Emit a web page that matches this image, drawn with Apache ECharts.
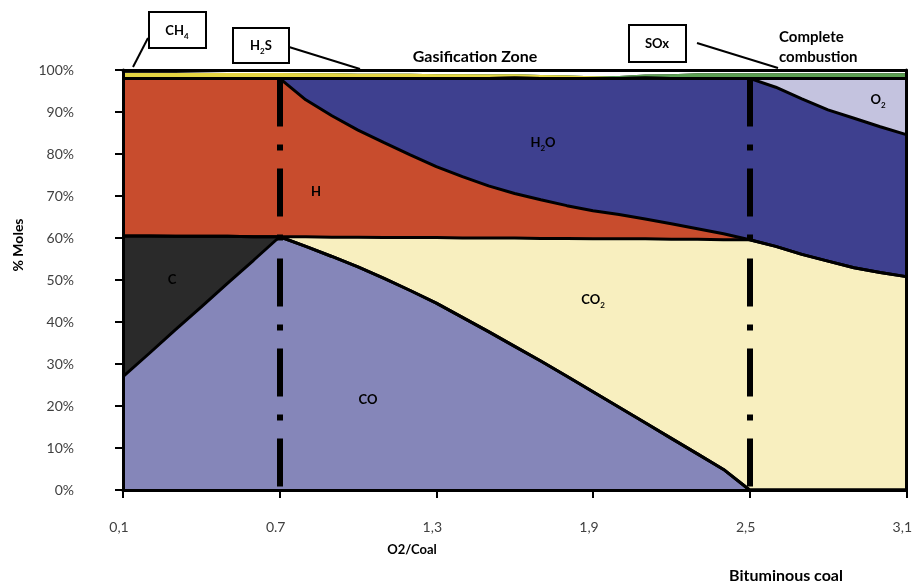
<!DOCTYPE html>
<html><head><meta charset="utf-8">
<script src="https://cdn.jsdelivr.net/npm/echarts@6/dist/echarts.min.js"></script>
<style>html,body{margin:0;padding:0;background:#fff}#c{width:915px;height:586px}</style>
</head><body><div id="c"></div>
<script>
// O2/Coal ratio sampling points
const xValues = [0.1,0.2,0.3,0.4,0.5,0.6,0.7,0.8,0.9,1.0,1.1,1.2,1.3,1.4,1.5,1.6,1.7,1.8,1.9,2.0,2.1,2.2,2.3,2.4,2.5,2.6,2.7,2.8,2.9,3.0,3.1];
// % moles of each species (stacked from bottom)
const CO  = [27.0,32.5,38.1,43.6,49.2,54.7,60.3,58.0,55.6,53.1,50.4,47.5,44.5,41.1,37.7,34.2,30.7,27.1,23.4,19.7,16.0,12.3,8.6,4.9,0,0,0,0,0,0,0];
const C   = [33.5,28.0,22.3,16.8,11.2,5.6,0,0,0,0,0,0,0,0,0,0,0,0,0,0,0,0,0,0,0,0,0,0,0,0,0];
const CO2 = [0,0,0,0,0,0,0,2.3,4.6,7.1,9.7,12.6,15.6,18.9,22.3,25.8,29.2,32.8,36.4,40.1,43.8,47.4,51.1,54.7,59.6,58.0,56.1,54.5,52.9,51.8,50.8];
const H   = [37.5,37.5,37.6,37.6,37.6,37.7,37.7,32.6,28.9,25.5,22.6,19.7,16.9,14.6,12.4,10.6,9.2,7.8,6.7,5.8,4.7,3.7,2.5,1.4,0,0,0,0,0,0,0];
const H2O = [0,0,0,0,0,0,0,5.1,8.9,12.3,15.3,18.2,21.0,23.4,25.6,27.5,28.9,30.3,31.5,32.4,33.6,34.6,35.8,37.0,38.4,37.9,37.0,36.0,35.6,34.7,33.8];
const O2  = [0,0,0,0,0,0,0,0,0,0,0,0,0,0,0,0,0,0,0,0,0,0,0,0,0,2.1,4.9,7.5,9.5,11.5,13.4];
const H2S = [1.3,1.3,1.3,1.3,1.3,1.3,1.3,1.2,1.2,1.1,1.1,1.1,1.0,1.0,0.9,0.9,0.8,0.7,0.5,0.3,0.1,0,0,0,0,0,0,0,0,0,0];
const SOx = [0,0,0,0,0,0,0,0,0,0,0,0,0,0,0,0,0,0,0,0.3,0.7,1.0,1.2,1.2,1.2,1.2,1.2,1.2,1.2,1.2,1.2];
const CH4 = [0.4,0.3,0.2,0.1,0,0,0,0,0,0,0,0,0,0,0,0,0,0,0,0,0,0,0,0,0,0,0,0,0,0,0];

const tickValues = [0.1,0.7,1.3,1.9,2.5,3.1];
const tickLabels = ['0,1','0.7','1,3','1,9','2,5','3,1'];
const zoneBoundaries = [0.7, 2.5];

const speciesNames = ['CO','C','CO2','H','H2O','O2','H2S','SOx','CH4'];
const speciesData = {CO, C, CO2, H, H2O, O2, H2S, SOx, CH4};
const speciesColors = {CO:'#8586b9', C:'#2a2a2a', CO2:'#f8efbf', H:'#c84c2d', H2O:'#3e408f', O2:'#c4c3df', H2S:'#e3d443', SOx:'#5c9f52', CH4:'#222222'};
const bordered = ['CO','C','CO2','H','H2O','O2'];

const FONT = 'Lato';
// cumulative (stacked) tops of each species layer
const cumulative = {};
let running = xValues.map(() => 0);
speciesNames.forEach(n => {
  running = running.map((v, i) => +(v + speciesData[n][i]).toFixed(3));
  cumulative[n] = running.slice();
});
const pairs = arr => xValues.map((x, i) => [x, arr[i]]);

// draw layers from the top one down so each lower layer covers the part below its top
const areaSeries = speciesNames.slice().reverse().map(n => ({
  name: n, type: 'line', data: pairs(cumulative[n]),
  symbol: 'none', z: 2, silent: true, lineStyle: { width: 0 },
  areaStyle: { color: speciesColors[n], opacity: 1, origin: 'start' }
}));
const lineSeries = bordered.map((n, i) => ({
  name: n + '_edge', type: 'line', data: pairs(cumulative[n]),
  symbol: 'none', z: 4, silent: true, lineStyle: { color: '#000', width: 3 },
  markLine: i === bordered.length - 1 ? {
    symbol: 'none', silent: true, label: { show: false },
    lineStyle: { color: '#000', width: 6, type: [48, 18, 6, 18] },
    data: zoneBoundaries.map(x => [{ coord: [x, cumulative.O2[xValues.indexOf(x)]] }, { coord: [x, 0] }])
  } : undefined
}));

const boldText = (text, x, y, extra) => ({
  type: 'text', x, y, z: 100,
  style: Object.assign({ text, fontFamily: FONT, fontWeight: 'bold', fontSize: 15, fill: '#000', align: 'center', verticalAlign: 'middle' }, extra || {})
});
const subRich = (fill) => ({
  a: { fontFamily: FONT, fontWeight: 'bold', fontSize: 13, color: fill, lineHeight: 18 },
  s: { fontFamily: FONT, fontWeight: 'bold', fontSize: 8, color: fill, verticalAlign: 'bottom', lineHeight: 9 }
});
const richLabel = (text, x, y, fill) => ({
  type: 'text', x, y, z: 100,
  style: { text, rich: subRich(fill), align: 'center', verticalAlign: 'middle' }
});
const box = (x, y, w, h) => ({ type: 'rect', z: 100, shape: { x, y, width: w, height: h }, style: { fill: '#fff', stroke: '#000', lineWidth: 2 } });
const seg = (x1, y1, x2, y2) => ({ type: 'line', z: 100, shape: { x1, y1, x2, y2 }, style: { stroke: '#000', lineWidth: 2 } });

const yTitle = boldText('% Moles', 18, 245, { fontSize: 14 });
yTitle.rotation = Math.PI / 2;

const option = {
  animation: false,
  grid: { left: 123, right: 5, top: 70, bottom: 96 },
  xAxis: [{
    type: 'value', min: 0.1, max: 3.1, z: 10,
    axisLine: { show: true, lineStyle: { color: '#000', width: 3 } },
    axisTick: { show: true, customValues: tickValues, length: 8, lineStyle: { color: '#000', width: 2 } },
    axisLabel: { customValues: tickValues, margin: 30, color: '#404040', fontSize: 14, fontFamily: FONT,
      padding: [0, 8, 0, 0],
      formatter: v => tickLabels[tickValues.findIndex(t => Math.abs(t - v) < 1e-6)] },
    splitLine: { show: false }
  }, {
    type: 'value', position: 'top', min: 0.1, max: 3.1, z: 10,
    axisLine: { show: true, onZero: false, lineStyle: { color: '#000', width: 3 } },
    axisTick: { show: false }, axisLabel: { show: false }, splitLine: { show: false }
  }],
  yAxis: [{
    type: 'value', min: 0, max: 100, interval: 10, z: 10,
    axisLine: { show: true, lineStyle: { color: '#000', width: 3 } },
    axisTick: { show: true, length: 8, lineStyle: { color: '#000', width: 2 } },
    axisLabel: { formatter: '{value}%', margin: 49, color: '#404040', fontSize: 14, fontFamily: FONT },
    splitLine: { show: false }
  }, {
    type: 'value', position: 'right', min: 0, max: 100, z: 10,
    axisLine: { show: true, onZero: false, lineStyle: { color: '#000', width: 3 } },
    axisTick: { show: false }, axisLabel: { show: false }, splitLine: { show: false }
  }],
  series: areaSeries.concat(lineSeries),
  graphic: [
    yTitle,
    boldText('O2/Coal', 412, 550, { fontSize: 13 }),
    boldText('Bituminous coal', 786, 576, { fontSize: 16 }),
    boldText('Gasification Zone', 475, 57, { fontSize: 16 }),
    boldText('Complete', 779, 37, { align: 'left' }),
    boldText('combustion', 779, 57, { align: 'left' }),
    seg(148, 38, 133, 67), seg(289, 47, 360, 69), seg(697, 43, 778, 68),
    box(149, 12, 57, 36), box(233, 28, 56, 35), box(629, 25, 57, 37),
    richLabel('{a|CH}{s|4}', 177, 31, '#000'),
    richLabel('{a|H}{s|2}{a|S}', 261, 46, '#000'),
    richLabel('{a|SOx}', 657, 44, '#000'),
    richLabel('{a|C}', 172, 280, '#fff'),
    richLabel('{a|H}', 316, 192, '#2a1410'),
    richLabel('{a|H}{s|2}{a|O}', 543, 143, '#15163a'),
    richLabel('{a|CO}', 368, 400, '#1b1d4a'),
    richLabel('{a|CO}{s|2}', 593, 300, '#111'),
    richLabel('{a|O}{s|2}', 878, 100, '#111')
  ]
};
const chart = echarts.init(document.getElementById('c'));
chart.setOption(option);
</script></body></html>
